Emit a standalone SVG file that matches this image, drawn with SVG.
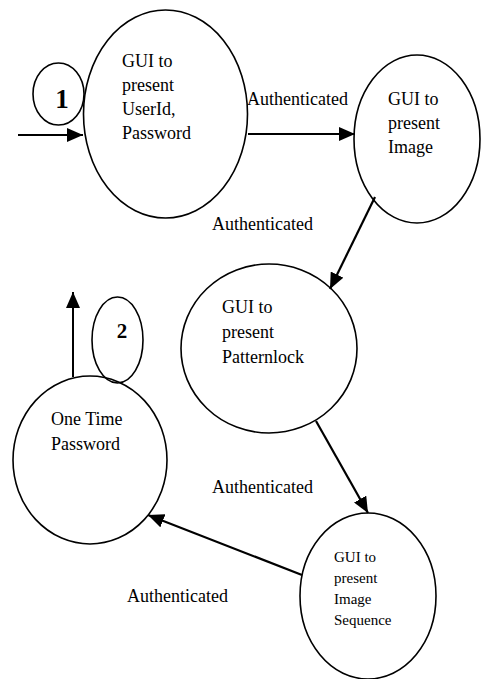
<svg xmlns="http://www.w3.org/2000/svg" width="482" height="679" viewBox="0 0 482 679">
<defs>
<style>
.n{fill:none;stroke:#000;stroke-width:1.6}
.t{font-family:"Liberation Serif","Times New Roman",serif;font-size:18px;fill:#000}
.s{font-family:"Liberation Serif","Times New Roman",serif;font-size:15px;fill:#000}
.b{font-family:"Liberation Serif","Times New Roman",serif;font-weight:bold;fill:#000}
.e{fill:none;stroke:#000;stroke-width:2.2;marker-end:url(#ah)}
</style>
<marker id="ah" viewBox="0 0 10 10" refX="10" refY="5" markerWidth="7" markerHeight="7" markerUnits="userSpaceOnUse" orient="auto">
<path d="M0,0 L10,5 L0,10 z" fill="#000"/>
</marker>
<marker id="ah2" viewBox="0 0 16 14" refX="16" refY="7" markerWidth="16" markerHeight="14" markerUnits="userSpaceOnUse" orient="auto">
<path d="M0,0 L16,7 L0,14 z" fill="#000"/>
</marker>
</defs>
<g id="connectors">
<line x1="18" y1="135" x2="83" y2="135" stroke="#000" stroke-width="2" marker-end="url(#ah2)"/>
<line x1="248" y1="134" x2="355" y2="134" stroke="#000" stroke-width="2.2" marker-end="url(#ah2)"/>
<line x1="375" y1="197" x2="330" y2="289" stroke="#000" stroke-width="2.2" marker-end="url(#ah2)"/>
<line x1="316" y1="421" x2="368" y2="513" stroke="#000" stroke-width="2.2" marker-end="url(#ah2)"/>
<line x1="302" y1="575" x2="148" y2="515" stroke="#000" stroke-width="2.2" marker-end="url(#ah2)"/>
<line x1="73" y1="377" x2="73" y2="292" stroke="#000" stroke-width="2" marker-end="url(#ah2)"/>
<text class="t" x="247" y="105">Authenticated</text>
<text class="t" x="212" y="230">Authenticated</text>
<text class="t" x="212" y="493">Authenticated</text>
<text class="t" x="127" y="602">Authenticated</text>
</g>
<g id="node-login">
<ellipse class="n" cx="165.5" cy="114" rx="82" ry="104"/>
<text class="t" x="122" y="67">GUI to</text>
<text class="t" x="122" y="91">present</text>
<text class="t" x="122" y="115">UserId,</text>
<text class="t" x="122" y="139">Password</text>
</g>
<g id="marker-1">
<ellipse class="n" cx="58.5" cy="94" rx="25.5" ry="31"/>
<text class="b" x="62" y="108" font-size="27" text-anchor="middle">1</text>
</g>
<g id="node-image">
<ellipse class="n" cx="417" cy="139" rx="63" ry="84"/>
<text class="t" x="388" y="105">GUI to</text>
<text class="t" x="388" y="129">present</text>
<text class="t" x="388" y="153">Image</text>
</g>
<g id="node-pattern">
<ellipse class="n" cx="269" cy="348.5" rx="88" ry="84.5"/>
<text class="t" x="222" y="313">GUI to</text>
<text class="t" x="222" y="338">present</text>
<text class="t" x="222" y="363">Patternlock</text>
</g>
<g id="node-sequence">
<ellipse class="n" cx="368" cy="596" rx="68" ry="83"/>
<text class="s" x="334" y="562">GUI to</text>
<text class="s" x="334" y="583">present</text>
<text class="s" x="334" y="604">Image</text>
<text class="s" x="334" y="625">Sequence</text>
</g>
<g id="node-otp">
<ellipse class="n" cx="90" cy="460" rx="77" ry="84"/>
<text class="t" x="51" y="425">One Time</text>
<text class="t" x="51" y="450">Password</text>
</g>
<g id="marker-2">
<ellipse class="n" cx="117.5" cy="340" rx="25.5" ry="43"/>
<text class="b" x="122" y="338" font-size="21" text-anchor="middle">2</text>
</g>
</svg>
